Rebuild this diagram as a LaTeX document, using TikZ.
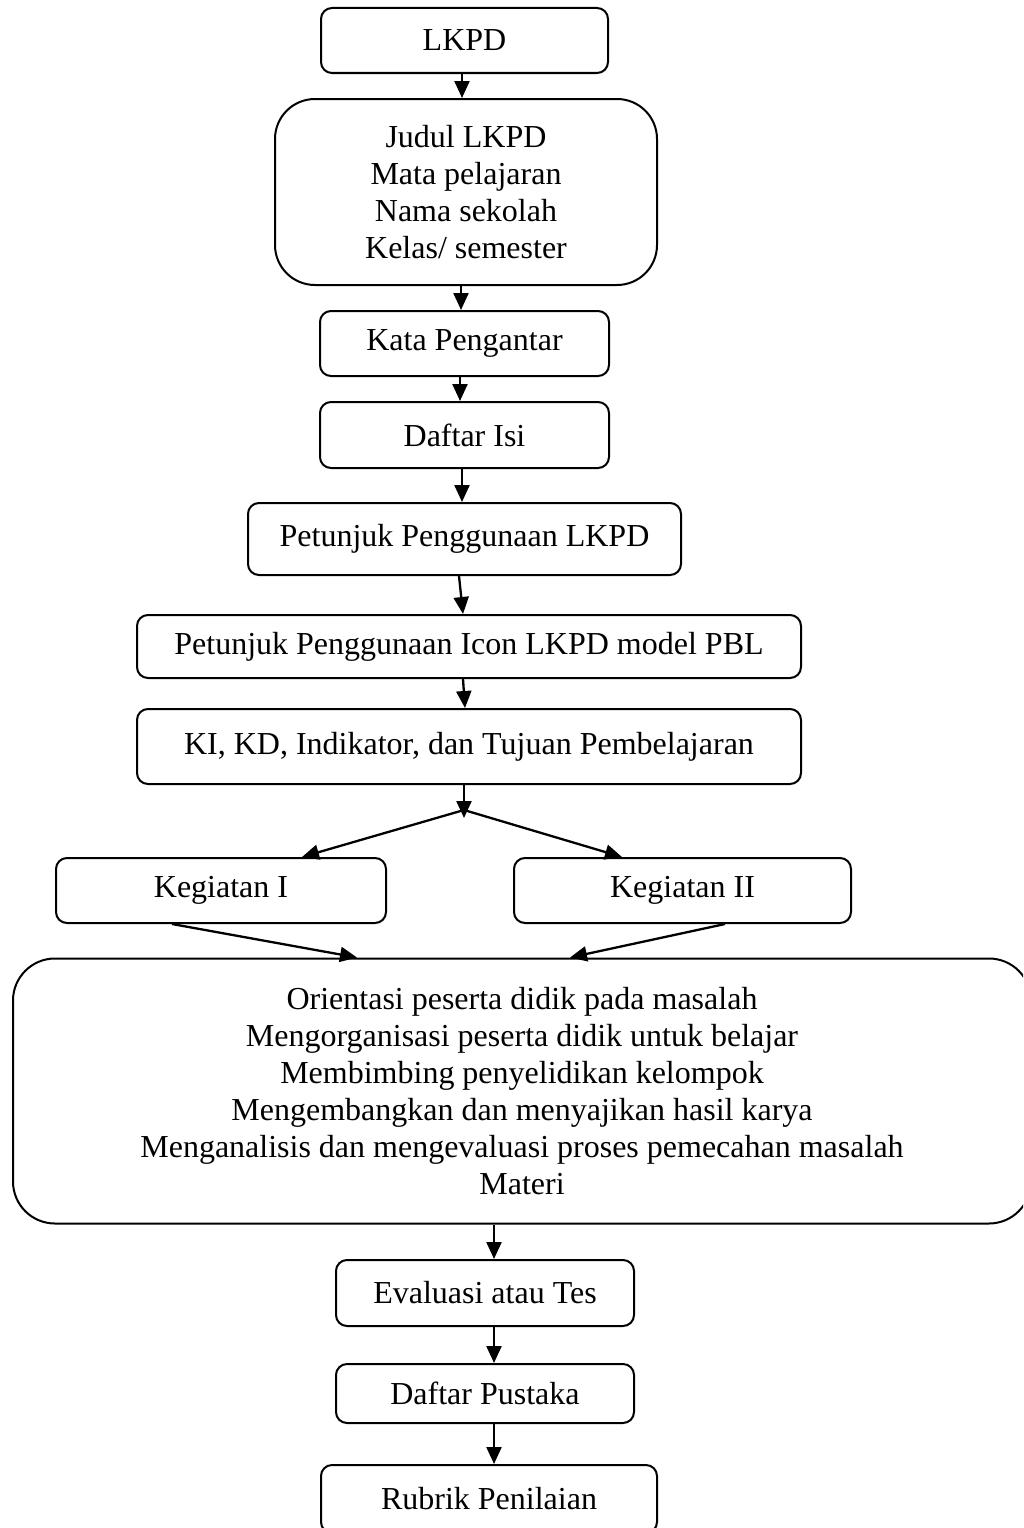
\documentclass[tikz,border=0pt]{standalone}
\usepackage{fontspec}
\setmainfont{Liberation Serif}
\usetikzlibrary{arrows.meta}

\tikzset{
  box/.style={draw, line width=2pt, rounded corners=11pt, inner sep=0pt,
    align=center, font=\fontsize{32}{37}\selectfont},
  bigbox/.style={box, rounded corners=42pt},
  arr/.style={line width=2.3pt, -{Triangle[length=17pt,width=15pt]}}
}

\begin{document}
\begin{tikzpicture}[x=1pt,y=-1pt]
\useasboundingbox (0,0) rectangle (1023,1528);
\clip (0,0) rectangle (1023,1528);

% main chain of sections
\node[box, minimum width=287pt, minimum height=65pt] (lkpd) at (464.5,40.5) {LKPD};
\node[bigbox, rounded corners=40pt, minimum width=382pt, minimum height=186pt] (judul) at (466,192)
  {Judul LKPD\\Mata pelajaran\\Nama sekolah\\Kelas/ semester};
\node[box, minimum width=289pt, minimum height=65pt] (kata) at (464.5,343.5) {Kata Pengantar};
\node[box, minimum width=289pt, minimum height=66pt] (isi) at (464.5,435) {Daftar Isi};
\node[box, minimum width=433pt, minimum height=72pt] (pet) at (464.5,539) {Petunjuk Penggunaan LKPD};
\node[box, minimum width=664pt, minimum height=63pt] (icon) at (469,646.5) {Petunjuk Penggunaan Icon LKPD model PBL};
\node[box, minimum width=664pt, minimum height=75pt] (ki) at (469,746.5) {KI, KD, Indikator, dan Tujuan Pembelajaran};

% two activities
\node[box, minimum width=330pt, minimum height=65pt] (keg1) at (221,890.5) {Kegiatan I};
\node[box, minimum width=337pt, minimum height=65pt] (keg2) at (682.5,890.5) {Kegiatan II};

% learning steps
\node[bigbox, minimum width=1018pt, minimum height=265pt] (pbl) at (522,1091)
  {Orientasi peserta didik pada masalah\\
   Mengorganisasi peserta didik untuk belajar\\
   Membimbing penyelidikan kelompok\\
   Mengembangkan dan menyajikan hasil karya\\
   Menganalisis dan mengevaluasi proses pemecahan masalah\\
   Materi};

% closing sections
\node[box, minimum width=298pt, minimum height=66pt] (eval) at (485,1293) {Evaluasi atau Tes};
\node[box, minimum width=298pt, minimum height=59pt] (pustaka) at (485,1393.5) {Daftar Pustaka};
\node[box, minimum width=336pt, minimum height=68pt] (rubrik) at (489,1499) {Rubrik Penilaian};

% fork below the competencies box
\coordinate (fork) at (464,810);
\coordinate (forktip) at (464,818);

% connectors
\draw[arr] ([xshift=-2.5pt]lkpd.south) -- ([xshift=-4pt]judul.north);
\draw[arr] ([xshift=-5pt]judul.south) -- ([xshift=-3.5pt]kata.north);
\draw[arr] ([xshift=-4.5pt]kata.south) -- ([xshift=-4.5pt]isi.north);
\draw[arr] ([xshift=-2.5pt]isi.south) -- ([xshift=-2.5pt]pet.north);
\draw[arr] ([xshift=-5.5pt]pet.south) -- ([xshift=-6pt]icon.north);
\draw[arr] ([xshift=-6pt]icon.south) -- ([xshift=-4pt]ki.north);
\draw[arr] ([xshift=-5pt]ki.south) -- (forktip);
\draw[arr] (fork) -- ([xshift=81pt]keg1.north);
\draw[arr] (fork) -- ([xshift=-60.5pt]keg2.north);
\draw[arr] ([xshift=-49pt]keg1.south) -- ([xshift=-165pt]pbl.north);
\draw[arr] ([xshift=42.5pt]keg2.south) -- ([xshift=48pt]pbl.north);
\draw[arr] ([xshift=-28pt]pbl.south) -- ([xshift=9pt]eval.north);
\draw[arr] ([xshift=9pt]eval.south) -- ([xshift=9pt]pustaka.north);
\draw[arr] ([xshift=9pt]pustaka.south) -- ([xshift=5pt]rubrik.north);
\end{tikzpicture}
\end{document}
